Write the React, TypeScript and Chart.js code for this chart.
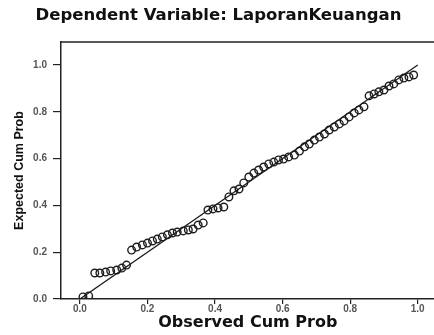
import React, { useEffect, useRef } from "react";
import { Chart, registerables } from "chart.js";

Chart.register(...registerables);

const chartTitle = "Dependent Variable: LaporanKeuangan";
const xAxisTitle = "Observed Cum Prob";
const yAxisTitle = "Expected Cum Prob";

const xTickValues = [0.0, 0.2, 0.4, 0.6, 0.8, 1.0];
const yTickValues = [0.0, 0.2, 0.4, 0.6, 0.8, 1.0];

// Observed cumulative probability (x) of each residual
const observedCumProb = [
  0.009, 0.026, 0.044, 0.059, 0.076, 0.091, 0.109, 0.124, 0.138, 0.153,
  0.168, 0.185, 0.2, 0.215, 0.229, 0.244, 0.259, 0.274, 0.288, 0.306,
  0.321, 0.335, 0.35, 0.365, 0.379, 0.394, 0.409, 0.426, 0.441, 0.456,
  0.471, 0.485, 0.5, 0.515, 0.529, 0.544, 0.559, 0.574, 0.588, 0.603,
  0.618, 0.635, 0.65, 0.665, 0.679, 0.694, 0.709, 0.724, 0.738, 0.753,
  0.768, 0.782, 0.797, 0.812, 0.826, 0.841, 0.856, 0.871, 0.885, 0.9,
  0.915, 0.929, 0.944, 0.959, 0.974, 0.988,
];

// Expected cumulative probability (y) of each residual
const expectedCumProb = [
  0.009, 0.013, 0.111, 0.111, 0.115, 0.12, 0.124, 0.132, 0.145, 0.209,
  0.222, 0.231, 0.239, 0.248, 0.256, 0.265, 0.274, 0.282, 0.286, 0.291,
  0.295, 0.299, 0.316, 0.325, 0.38, 0.385, 0.389, 0.393, 0.436, 0.462,
  0.47, 0.496, 0.521, 0.538, 0.551, 0.564, 0.577, 0.585, 0.594, 0.598,
  0.607, 0.615, 0.632, 0.65, 0.662, 0.679, 0.692, 0.705, 0.722, 0.735,
  0.748, 0.761, 0.778, 0.795, 0.808, 0.821, 0.868, 0.876, 0.885, 0.893,
  0.91, 0.919, 0.936, 0.944, 0.949, 0.957,
];

// Reference diagonal (normal line)
const diagonalX = [0, 1];
const diagonalY = [0, 1];

const frameColor = "#222222";
const tickColor = "#555555";

const frameTop = {
  id: "frameTop",
  afterDraw(chart: any) {
    const { ctx, chartArea } = chart;
    ctx.save();
    ctx.strokeStyle = frameColor;
    ctx.lineWidth = 1.5;
    ctx.beginPath();
    ctx.moveTo(chartArea.left, chartArea.top);
    ctx.lineTo(chartArea.right, chartArea.top);
    ctx.stroke();
    ctx.restore();
  },
};

export default function App() {
  const canvasRef = useRef<HTMLCanvasElement | null>(null);

  useEffect(() => {
    if (!canvasRef.current) return;
    const chart = new Chart(canvasRef.current, {
      type: "scatter",
      data: {
        datasets: [
          {
            type: "line",
            data: diagonalX.map((x, i) => ({ x, y: diagonalY[i] })),
            borderColor: "#1a1a1a",
            borderWidth: 1.3,
            pointRadius: 0,
            fill: false,
          },
          {
            type: "scatter",
            data: observedCumProb.map((x, i) => ({ x, y: expectedCumProb[i] })),
            pointStyle: "circle",
            pointRadius: 3.8,
            borderColor: "#1e1e1e",
            borderWidth: 1.4,
            backgroundColor: "rgba(0,0,0,0)",
          },
        ],
      },
      options: {
        responsive: false,
        animation: false,
        layout: { padding: { left: 0, right: 3, top: 0, bottom: 0 } },
        plugins: {
          legend: { display: false },
          tooltip: { enabled: false },
          title: {
            display: true,
            text: chartTitle,
            color: "#111",
            font: { family: "'DejaVu Sans', sans-serif", size: 16.5, weight: "bold", lineHeight: 1.2 },
            padding: { top: 6, bottom: 16.2 },
          },
        },
        scales: {
          x: {
            type: "linear",
            min: -0.056,
            max: 1.05,
            afterBuildTicks: (s: any) => {
              s.ticks = xTickValues.map((v) => ({ value: v }));
            },
            afterFit: (s: any) => {
              s.height = 36;
            },
            ticks: {
              color: tickColor,
              font: { family: "'Liberation Sans', Arial, sans-serif", size: 10, weight: "bold" },
              padding: -1,
              autoSkip: false,
              maxRotation: 0,
              callback: (v: any) => Number(v).toFixed(1),
            },
            grid: { drawOnChartArea: false, drawTicks: true, tickLength: 5, color: frameColor, lineWidth: 1.2 },
            border: { display: true, color: frameColor, width: 1.5 },
            title: {
              display: true,
              text: xAxisTitle,
              color: "#111",
              font: { family: "'DejaVu Sans', sans-serif", size: 16, weight: "bold", lineHeight: 1.2 },
              padding: { top: 0, bottom: 2.5 },
            },
          },
          y: {
            type: "linear",
            min: 0,
            max: 1.098,
            afterBuildTicks: (s: any) => {
              s.ticks = yTickValues.map((v) => ({ value: v }));
            },
            afterFit: (s: any) => {
              s.width = 61;
            },
            ticks: {
              color: tickColor,
              font: { family: "'Liberation Sans', Arial, sans-serif", size: 10, weight: "bold" },
              padding: 6,
              autoSkip: false,
              callback: (v: any) => Number(v).toFixed(1),
            },
            grid: { drawOnChartArea: false, drawTicks: true, tickLength: 8, color: frameColor, lineWidth: 1.2 },
            border: { display: true, color: frameColor, width: 1.5 },
            title: {
              display: true,
              text: yAxisTitle,
              color: "#111",
              font: { family: "'Liberation Sans', Arial, sans-serif", size: 12.5, weight: "bold", lineHeight: 1.2 },
              padding: { top: 12.5, bottom: 0 },
            },
          },
        },
      },
      plugins: [frameTop],
    });
    return () => chart.destroy();
  }, []);

  return (
    <div style={{ position: "absolute", left: 0, top: 0, width: 434, height: 335, overflow: "hidden", background: "#fff" }}>
      <canvas ref={canvasRef} width={440} height={335} style={{ width: 440, height: 335, display: "block" }} />
    </div>
  );
}
